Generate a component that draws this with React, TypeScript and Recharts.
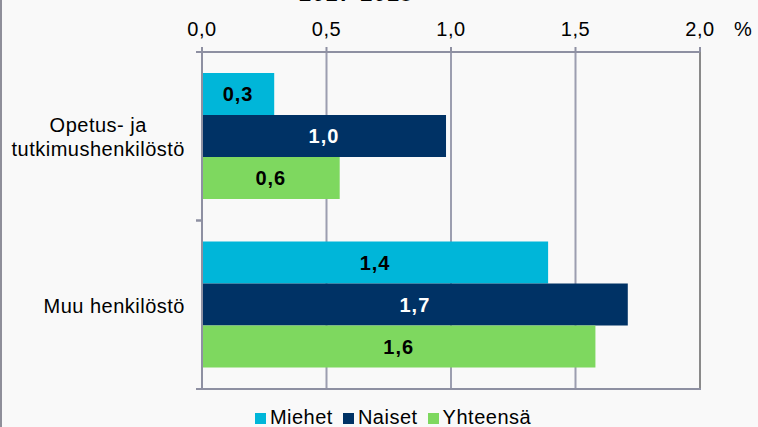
import React from 'react';
import { BarChart, Bar, XAxis, YAxis, CartesianGrid, LabelList, ReferenceLine } from 'recharts';

const categories = ['Opetus- ja\ntutkimushenkilöstö', 'Muu henkilöstö'];
const miehet = [0.29, 1.39];
const naiset = [0.98, 1.71];
const yhteensa = [0.553, 1.58];
const xTicks = [0, 0.5, 1, 1.5, 2];

const SERIES = [
  { key: 'miehet', name: 'Miehet', color: '#00b6d9', text: '#000000' },
  { key: 'naiset', name: 'Naiset', color: '#003265', text: '#ffffff' },
  { key: 'yhteensa', name: 'Yhteensä', color: '#7ed85f', text: '#000000' },
];

const data = categories.map((name, i) => ({
  name,
  miehet: miehet[i],
  naiset: naiset[i],
  yhteensa: yhteensa[i],
}));

const FONT = '"Liberation Sans", Arial, sans-serif';
const AXIS = '#8e90a2';
const GRID = '#9c9eb0';
const W = 758;
const H = 427;
const LEGEND_H = 38;
const TOP_AXIS_H = 52;
const M = { top: 0, right: 58, bottom: LEGEND_H, left: 0 };
const Y_W = 202;
const PLOT_W = W - M.left - M.right - Y_W;
const PLOT_BOTTOM = H - LEGEND_H;
const BAND_HALF = (PLOT_BOTTOM - TOP_AXIS_H) / categories.length / 2;

const fmt = (v: any) => Number(v).toFixed(1).replace('.', ',');

let ctx: CanvasRenderingContext2D | null = null;
function textWidth(s: string) {
  if (!ctx) ctx = document.createElement('canvas').getContext('2d');
  if (!ctx) return s.length * 10;
  ctx.font = `20px ${FONT}`;
  return ctx.measureText(s).width + 0.5 * s.length;
}

function XTick({ x, y, payload }: any) {
  return (
    <g>
      <text x={x} y={y - 9} textAnchor="middle" fontSize={20} letterSpacing={0.5} fill="#000">
        {fmt(payload.value)}
      </text>
      {payload.value === 2 && (
        <text x={x + 43} y={y - 9} textAnchor="middle" fontSize={20} fill="#000">%</text>
      )}
    </g>
  );
}

function YTick({ x, y, payload }: any) {
  const lines = String(payload.value).split('\n');
  const w = Math.max(...lines.map(textWidth));
  const cx = x - w / 2;
  return (
    <g>
      {lines.map((l, i) => (
        <text
          key={i}
          x={cx}
          y={y + 8 + (i - (lines.length - 1) / 2) * 24}
          textAnchor="middle"
          fontSize={20}
          letterSpacing={0.5}
          fill="#000"
        >
          {l}
        </text>
      ))}
      <line x1={x + 11} x2={x + 17} y1={y - BAND_HALF} y2={y - BAND_HALF} stroke={AXIS} strokeWidth={2} />
      <line x1={x + 11} x2={x + 17} y1={y + BAND_HALF} y2={y + BAND_HALF} stroke={AXIS} strokeWidth={2} />
    </g>
  );
}

function LegendBox() {
  return (
    <div
      style={{
        position: 'absolute',
        left: 0,
        top: H - LEGEND_H,
        width: W,
        height: LEGEND_H,
        boxSizing: 'border-box',
        display: 'flex',
        justifyContent: 'center',
        alignItems: 'flex-end',
        paddingLeft: 38,
        fontFamily: FONT,
        fontSize: 20,
        lineHeight: '20px',
        letterSpacing: 0.5,
        color: '#000',
      }}
    >
      {SERIES.map((s) => (
        <div key={s.key} style={{ display: 'flex', alignItems: 'flex-end', marginRight: 10 }}>
          <span style={{ width: 11, height: 11, background: s.color, marginRight: 4, marginBottom: 3 }} />
          <span>{s.name}</span>
        </div>
      ))}
    </div>
  );
}

export default function App() {
  return (
    <div
      style={{
        position: 'absolute',
        left: 0,
        top: 0,
        width: W,
        height: H,
        background: '#f9f9f9',
        fontFamily: FONT,
        overflow: 'hidden',
      }}
    >
      <div
        style={{
          position: 'absolute',
          left: 0,
          width: 712,
          top: -17,
          textAlign: 'center',
          fontWeight: 'bold',
          fontSize: 22,
          lineHeight: '22px',
          letterSpacing: 1,
        }}
      >
        2017-2018
      </div>
      <BarChart
        width={W}
        height={H}
        data={data}
        layout="vertical"
        margin={M}
        barCategoryGap="12.5%"
        barGap={0}
      >
        <CartesianGrid horizontal={false} stroke={GRID} strokeWidth={2} />
        <XAxis
          type="number"
          orientation="top"
          domain={[0, 2]}
          ticks={xTicks}
          height={TOP_AXIS_H}
          tickSize={5}
          tick={<XTick />}
          axisLine={{ stroke: AXIS, strokeWidth: 2 }}
          tickLine={{ stroke: AXIS, strokeWidth: 2 }}
        />
        <YAxis
          type="category"
          dataKey="name"
          width={Y_W}
          tickSize={6}
          tickMargin={11}
          tickLine={false}
          tick={<YTick />}
          axisLine={{ stroke: AXIS, strokeWidth: 2 }}
        />
        {SERIES.map((s) => (
          <Bar key={s.key} dataKey={s.key} name={s.name} fill={s.color} isAnimationActive={false}>
            <LabelList
              dataKey={s.key}
              position="center"
              formatter={fmt}
              fill={s.text}
              fontSize={20}
              fontWeight="bold"
              letterSpacing={1}
            />
          </Bar>
        ))}
        <ReferenceLine x={2} stroke="#8a8a8a" strokeWidth={2} />
      </BarChart>
      {/* bottom frame line of the plot */}
      <div
        style={{
          position: 'absolute',
          left: Y_W - 6,
          top: PLOT_BOTTOM - 1,
          width: PLOT_W + 7,
          height: 2,
          background: AXIS,
        }}
      />
      <LegendBox />
      <div style={{ position: 'absolute', left: 0, top: 0, width: 2, height: H, background: '#8f8f9a' }} />
    </div>
  );
}
